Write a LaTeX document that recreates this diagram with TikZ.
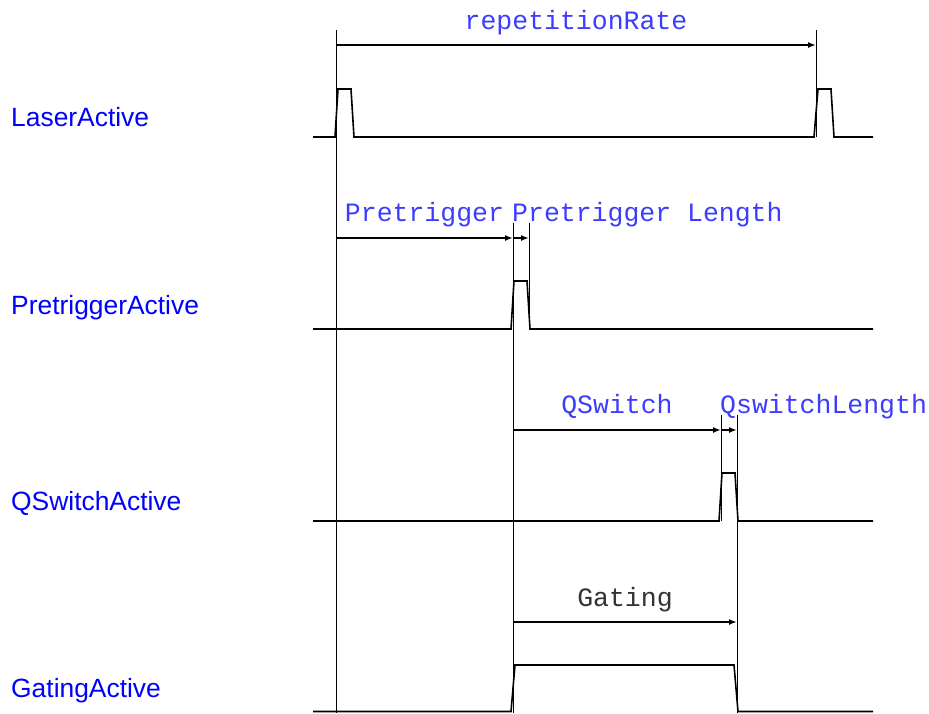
\documentclass[tikz,border=0pt]{standalone}
\usepackage{fontspec}
\setmainfont{Liberation Sans}
\newfontfamily\monofont{Liberation Mono}
\usepackage{xcolor}
\usepackage{tikz}
\usetikzlibrary{arrows.meta,positioning}
\definecolor{sigblue}{RGB}{0,0,255}
\definecolor{parblue}{RGB}{60,60,255}
\definecolor{pargray}{RGB}{50,50,50}
\tikzset{
  signal/.style={line width=1.6pt,line join=miter},
  marker/.style={line width=0.8pt},
  span/.style={line width=1.6pt,-{Latex[length=8pt,width=6pt]}},
  signame/.style={inner sep=0pt,anchor=base west,text=sigblue,font=\fontsize{26.4}{30}\selectfont},
  parname/.style={inner sep=0pt,anchor=base,text=parblue,font=\monofont\fontsize{26.5}{30}\selectfont}
}

\begin{document}
\begin{tikzpicture}[x=1pt,y=-1pt]
      \useasboundingbox (0,0) rectangle (929,713);
      % signal names
      \node[signame] (laser) at (11,126) {LaserActive};
      \node[signame] (pretrig) at (11,314) {PretriggerActive};
      \node[signame] (qswitch) at (11,510) {QSwitchActive};
      \node[signame] (gating) at (11,697) {GatingActive};
      % waveforms
      \draw[signal] (313,137) -- (335,137) -- (338,89) -- (351,89) -- (354,137) -- (814,137) -- (818,89) -- (831,89) -- (834,137) -- (873,137);
      \draw[signal] (313,329) -- (511,329) -- (514,281) -- (527,281) -- (530,329) -- (873,329);
      \draw[signal] (313,521) -- (719,521) -- (722,473) -- (735,473) -- (738,521) -- (873,521);
      \draw[signal] (313,711.5) -- (511,711.5) -- (515,665) -- (734,665) -- (738,711.5) -- (873,711.5);
      % time markers
      \coordinate (t0top) at (336,30);    \coordinate (t0bot) at (336,713);
      \coordinate (t1top) at (816,30);    \coordinate (t1bot) at (816,137);
      \coordinate (t2top) at (513,223);   \coordinate (t2bot) at (513,713);
      \coordinate (t3top) at (529,223);   \coordinate (t3bot) at (529,329);
      \coordinate (t4top) at (721,415);   \coordinate (t4bot) at (721,521);
      \coordinate (t5top) at (737,415);   \coordinate (t5bot) at (737,713);
      \foreach \t in {0,...,5}
        \draw[marker] (t\t top) -- (t\t bot);
      % spans
      \coordinate (rr-a) at (336,45);  \coordinate (rr-b) at (816,45);
      \coordinate (pt-a) at (336,238); \coordinate (pt-b) at (513,238); \coordinate (pt-c) at (529,238);
      \coordinate (qs-a) at (513,430); \coordinate (qs-b) at (721,430); \coordinate (qs-c) at (737,430);
      \coordinate (gt-a) at (513,622); \coordinate (gt-b) at (737,622);
      \draw[span] (rr-a) -- (rr-b);
      \draw[span] (pt-a) -- (pt-b);
      \draw[span] (pt-b) -- (pt-c);
      \draw[span] (qs-a) -- (qs-b);
      \draw[span] (qs-b) -- (qs-c);
      \draw[span] (gt-a) -- (gt-b);
      % parameter names
      \node[parname] (reprate) at (576,29) {repetitionRate};
      \node[parname] (ptdelay) at (424.5,221) {Pretrigger};
      \node[parname,anchor=base west] (ptlen) at (512,221) {Pretrigger Length};
      \node[parname] (qsdelay) at (617,413) {QSwitch};
      \node[parname,anchor=base west] (qslen) at (720,413) {QswitchLength};
      \node[parname,text=pargray] (gate) at (625,606) {Gating};
\end{tikzpicture}
\end{document}
